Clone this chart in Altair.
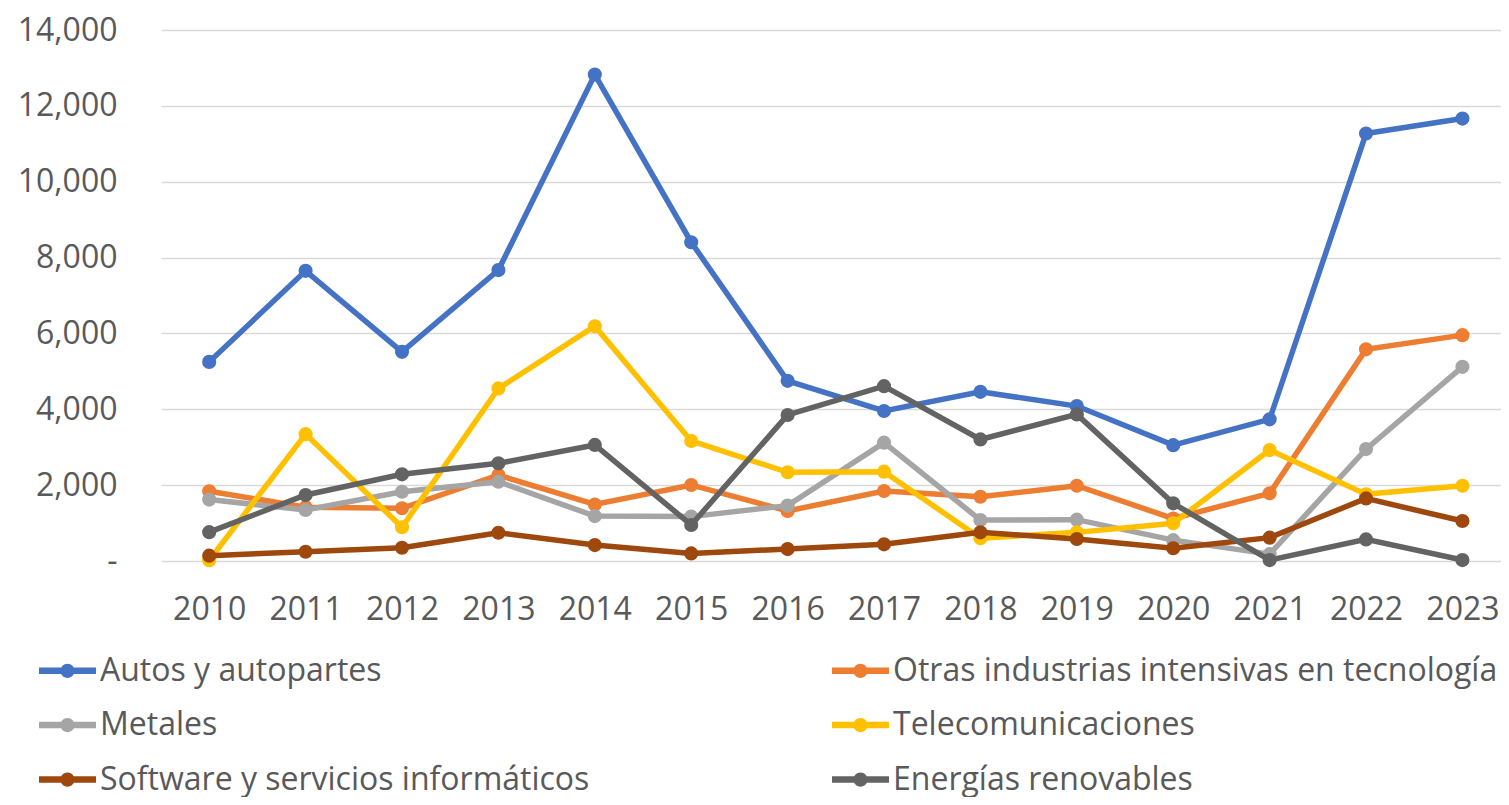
import altair as alt
import pandas as pd

years = list(range(2010, 2024))
series = [
    "Autos y autopartes",
    "Otras industrias intensivas en tecnología",
    "Metales",
    "Telecomunicaciones",
    "Software y servicios informáticos",
    "Energías renovables",
]
colors = ["#4472C4", "#ED7D31", "#A5A5A5", "#FFC000", "#9E480E", "#636363"]

autos = [5250, 7650, 5515, 7670, 12825, 8405, 4750, 3955, 4460, 4085, 3055, 3735, 11270, 11665]
otras = [1840, 1420, 1390, 2265, 1490, 2005, 1320, 1845, 1695, 1985, 1120, 1785, 5580, 5955]
metales = [1620, 1345, 1825, 2090, 1185, 1170, 1460, 3120, 1080, 1090, 550, 180, 2950, 5120]
telecom = [20, 3345, 890, 4550, 6190, 3165, 2340, 2355, 600, 755, 995, 2925, 1760, 1985]
software = [140, 245, 350, 745, 420, 200, 315, 440, 755, 580, 335, 615, 1650, 1055]
energias = [760, 1740, 2285, 2575, 3060, 950, 3850, 4610, 3205, 3865, 1520, 25, 570, 25]

values = [autos, otras, metales, telecom, software, energias]
y_ticks = list(range(0, 14001, 2000))

rows = []
for name, vals in zip(series, values):
    for yr, v in zip(years, vals):
        rows.append({"year": yr, "serie": name, "valor": v})
df = pd.DataFrame(rows)

FONT = "Open Sans"
TXT = "#595959"

legend_path = (
    "M-1,-0.11 L1,-0.11 L1,0.11 L-1,0.11 Z "
    "M-0.25,0 A0.25,0.25 0 1,1 0.25,0 A0.25,0.25 0 1,1 -0.25,0 Z"
)

# legend lays entries out column by column: order the domain so rows read
# Autos | Otras, Metales | Telecom, Software | Energías
legend_order = [series[0], series[2], series[4], series[1], series[3], series[5]]
legend_colors = [colors[0], colors[2], colors[4], colors[1], colors[3], colors[5]]
color_scale = alt.Scale(domain=legend_order, range=legend_colors)

x_enc = alt.X(
    "year:Q",
    scale=alt.Scale(domain=[2009.5, 2023.4], nice=False, zero=False),
    axis=alt.Axis(
        values=years, format="d", title=None, grid=False, domain=False, ticks=False,
        labelFont=FONT, labelFontSize=32, labelColor=TXT, labelPadding=33,
        labelOverlap=False, labelFlush=False,
    ),
)
y_enc = alt.Y(
    "valor:Q",
    scale=alt.Scale(domain=[0, 14000], nice=False),
    axis=alt.Axis(
        values=y_ticks, title=None, domain=False, ticks=False,
        gridColor="#D9D9D9", gridWidth=1.5,
        labelFont=FONT, labelFontSize=32, labelColor=TXT, labelPadding=44,
        labelExpr="datum.value == 0 ? '-' : format(datum.value, ',')",
    ),
)

layers = []
for name in series:
    layers.append(
        alt.Chart(df)
        .transform_filter(alt.datum.serie == name)
        .mark_line(strokeWidth=5.5, point=alt.OverlayMarkDef(filled=True, size=200, opacity=1))
        .encode(
            x=x_enc,
            y=y_enc,
            color=alt.Color(
                "serie:N",
                scale=color_scale,
                legend=alt.Legend(
                    title=None, orient="none", legendX=-122, legendY=612,
                    columns=2, columnPadding=242, rowPadding=9.5, padding=0,
                    symbolType=legend_path, symbolSize=3249, symbolStrokeWidth=0,
                    labelFont=FONT, labelFontSize=32, labelColor=TXT, labelOffset=4,
                    labelLimit=1000,
                ),
            ),
        )
    )

chart = (
    alt.layer(*layers)
    .properties(
        width=1340,
        height=531,
        autosize=alt.AutoSizeParams(type="none"),
        padding={"left": 153, "top": 22, "right": 0, "bottom": 236},
    )
    .configure_view(stroke=None)
)

chart.save("out.html", embed_options={"renderer": "svg", "actions": False})
